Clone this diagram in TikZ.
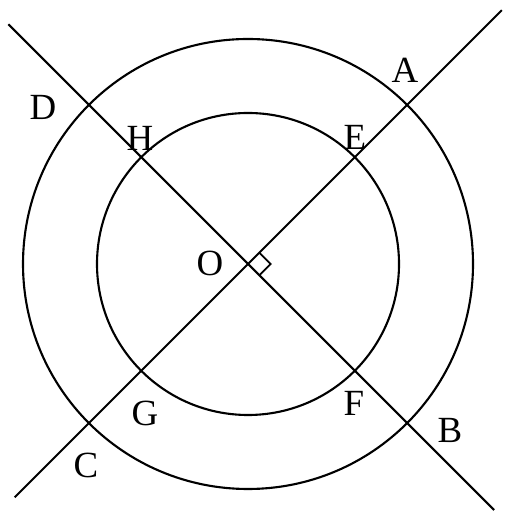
\documentclass[tikz,border=0pt]{standalone}
\usepackage{fontspec}
\setmainfont{Liberation Serif}
\usetikzlibrary{calc}
\begin{document}
\begin{tikzpicture}[
      circ/.style={line width=1.2pt},
      chord/.style={line width=1.2pt},
      ptlabel/.style={font=\fontsize{21}{24}\selectfont, inner sep=0pt}
    ]
    \useasboundingbox (0,0) rectangle (10.08,10.34);
    \coordinate (O) at (4.96,5.06);

    % the two circles
    \draw[circ] (O) circle (4.5);
    \draw[circ] (O) circle (3.02);

    % ends of the two perpendicular lines
    \coordinate (L1) at ($(O)+(135:6.78)$);
    \coordinate (L2) at ($(O)+(-45:6.96)$);
    \coordinate (L3) at ($(O)+(225:6.6)$);
    \coordinate (L4) at ($(O)+(45:7.18)$);
    \draw[chord] (L1) -- (L2);
    \draw[chord] (L3) -- (L4);

    % right angle at O
    \draw[line width=1pt] ($(O)+(45:0.32)$) -- ($(O)+(45:0.32)+(-45:0.32)$) -- ($(O)+(-45:0.32)$);

    \foreach \n/\x/\y in {A/8.10/8.94, E/7.10/7.60, D/0.86/8.20, H/2.80/7.58,
                          O/4.20/5.08, G/2.90/2.08, C/1.72/1.04, F/7.08/2.28, B/9.00/1.74} {
      \node[ptlabel] (lab\n) at (\x,\y) {\n};
    }
  \end{tikzpicture}
\end{document}
